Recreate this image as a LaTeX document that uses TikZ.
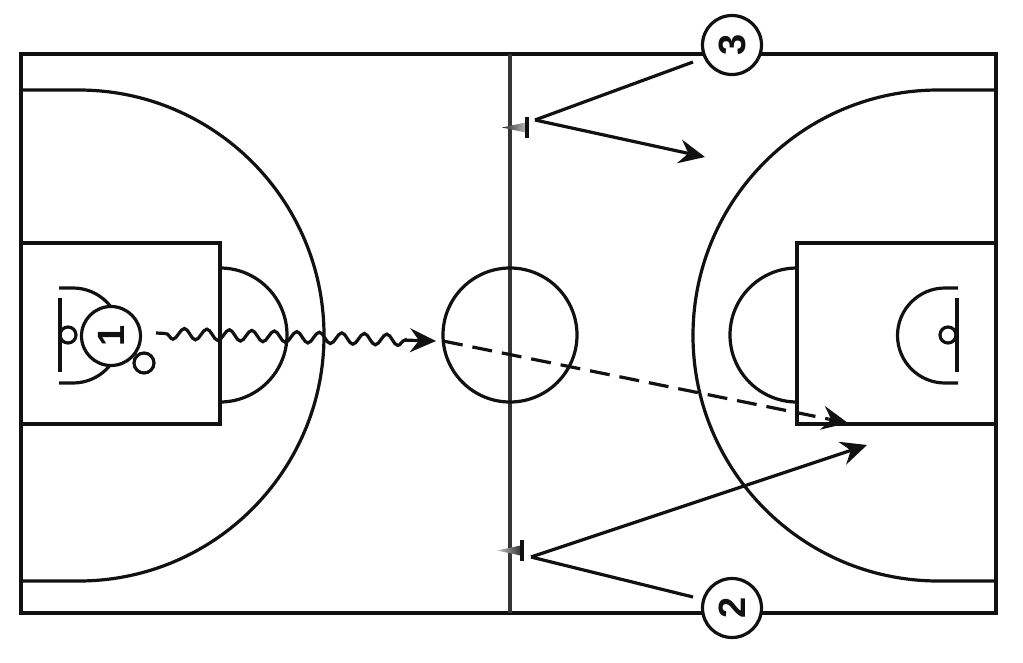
\documentclass[tikz,border=0pt]{standalone}
\usepackage{fontspec}
\setmainfont{Liberation Sans}
\usetikzlibrary{arrows.meta,decorations.pathmorphing,shadings,calc}
\definecolor{ink}{HTML}{111111}
\tikzset{
  court/.style={draw=ink,line width=3.2pt},
  midline/.style={draw=ink!85,line width=3.8pt},
  player/.style={circle,draw=ink,line width=3.2pt,fill=white,minimum size=59pt,inner sep=0pt,font=\fontsize{38}{38}\selectfont\bfseries,text=ink,rotate=90},
  ball/.style={circle,draw=ink,line width=3.2pt,fill=white,minimum size=20pt,inner sep=0pt},
  move/.style={draw=ink,line width=3.2pt,-{Stealth[length=26pt,width=24pt,inset=9pt]}},
  cutline/.style={draw=ink,line width=3.2pt},
}
\begin{document}
\begin{tikzpicture}[x=1pt,y=-1pt]
\useasboundingbox (0,0) rectangle (1023,662);
\fill[white] (0,0) rectangle (1023,662);
% court
\draw[court] (21,54) rectangle (996,613);
\draw[midline] (510,54) -- (510,613);
\draw[court] (510,335) circle[radius=67pt];
% left half
\draw[court] (21,243) rectangle (220,424);
\draw[court] (220,268) arc[start angle=90,end angle=-90,radius=67pt];
\draw[court] (21,90) -- (78.5,90) arc[start angle=90,end angle=-90,radius=245.5pt] -- (21,581);
\draw[court] (59,288) -- (73,288) arc[start angle=90,end angle=-90,radius=47.5pt] -- (59,383);
\draw[court] (60,298) -- (60,372);
\draw[court] (68,335) circle[radius=8pt];
% right half
\draw[court] (996,243) -- (797,243) -- (797,424) -- (996,424);
\draw[court] (797,268) arc[start angle=90,end angle=270,radius=67pt];
\draw[court] (996,90) -- (938.5,90) arc[start angle=90,end angle=270,radius=245.5pt] -- (996,581);
\draw[court] (958,288) -- (945,288) arc[start angle=90,end angle=270,radius=47.5pt] -- (958,383);
\draw[court] (957,298) -- (957,372);
\draw[court] (948,335) circle[radius=8pt];
% nodes
\node[player] (p1) at (111,336) {1};
\node[ball] (b) at (144,363) {};
\node[player] (p3) at (732,45) {3};
\node[player] (p2) at (732,608) {2};
% named points
\coordinate (dribA) at (156,333);
\coordinate (dribB) at (166,333.5);
\coordinate (dribC) at (436,341);
\coordinate (passStart) at (443,341);
\coordinate (passEnd) at (848,423);
\coordinate (cut3a) at (693,62);
\coordinate (cut3b) at (535,120);
\coordinate (cut3c) at (705,157);
\coordinate (cut2a) at (693,597);
\coordinate (cut2b) at (531,557);
\coordinate (cut2c) at (867,445);
% screens
\shade[left color=ink!90,right color=ink!25] (528,122) -- (528,133) -- (502,127.5) -- cycle;
\draw[draw=ink,line width=3.5pt] (527,117) -- (527,138);
\shade[left color=ink!25,right color=ink!90] (523,545) -- (523,556) -- (497,550.5) -- cycle;
\draw[draw=ink,line width=3.5pt] (522,540) -- (522,561);
% dribble
\draw[cutline] (dribA) -- (dribB);
\draw[move,decorate,decoration={snake,mirror,amplitude=5.5pt,segment length=22.5pt,post length=24pt}] (dribB) -- (dribC);
% pass
\draw[cutline,dash pattern=on 20pt off 10pt] (passStart) -- ($(passEnd)!20pt!(passStart)$);
\draw[move] ($(passEnd)!20pt!(passStart)$) -- (passEnd);
% cuts
\draw[cutline] (cut3a) -- (cut3b);
\draw[move] (cut3b) -- (cut3c);
\draw[cutline] (cut2a) -- (cut2b);
\draw[move] (cut2b) -- (cut2c);
\end{tikzpicture}
\end{document}
